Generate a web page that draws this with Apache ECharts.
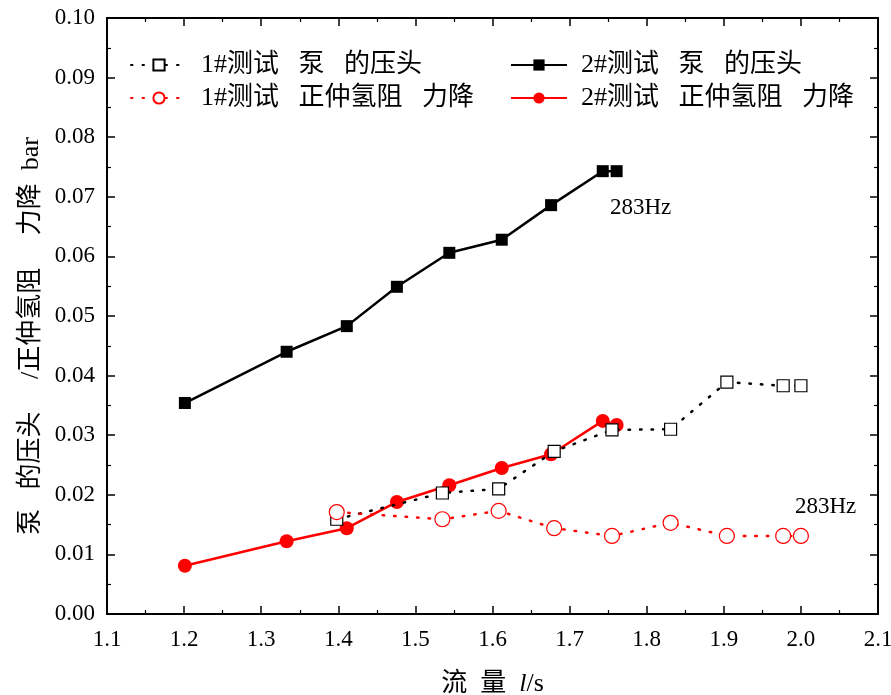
<!DOCTYPE html>
<html>
<head>
<meta charset="utf-8">
<title>流量-压头</title>
<script src="https://cdn.jsdelivr.net/npm/echarts@6/dist/echarts.min.js"></script>
<style>
  html, body { margin: 0; padding: 0; background: #fff; }
  #chart { width: 891px; height: 695px; }
</style>
</head>
<body>
<div id="chart"></div>
<script>
// 数据
var names = ['1#测试   泵   的压头', '1#测试   正仲氢阻   力降', '2#测试   泵   的压头', '2#测试   正仲氢阻   力降'];

var flow1 = [1.398, 1.535, 1.608, 1.680, 1.755, 1.831, 1.904, 1.977, 2.000];
var head1 = [0.0159, 0.0203, 0.0210, 0.0273, 0.0309, 0.0310, 0.0389, 0.0383, 0.0383];
var drop1 = [0.0171, 0.0159, 0.0173, 0.0144, 0.0131, 0.0153, 0.0131, 0.0131, 0.0131];

var flow2 = [1.201, 1.333, 1.411, 1.476, 1.544, 1.612, 1.676, 1.743, 1.761];
var head2 = [0.0354, 0.0440, 0.0483, 0.0549, 0.0606, 0.0628, 0.0686, 0.0743, 0.0743];
var drop2 = [0.0081, 0.0122, 0.0144, 0.0188, 0.0216, 0.0245, 0.0268, 0.0324, 0.0317];

var xTicks = ['1.1', '1.2', '1.3', '1.4', '1.5', '1.6', '1.7', '1.8', '1.9', '2.0', '2.1'];
var yTicks = ['0.00', '0.01', '0.02', '0.03', '0.04', '0.05', '0.06', '0.07', '0.08', '0.09', '0.10'];

var yName = '泵   的压头     /正仲氢阻     力降  bar';

function pairs(xs, ys){
	var out = [];
	for (var i = 0; i < xs.length; i++) out.push([xs[i], ys[i]]);
	return out;
}

var FONT = '"Liberation Serif", "Noto Sans CJK SC", serif';

var axisLine = { show: true, onZero: false, lineStyle: { color: '#000', width: 2 } };
var tick = { show: true, inside: true, length: 8, lineStyle: { color: '#000', width: 1.5 } };
var minor = { show: true, splitNumber: 2, length: 4, lineStyle: { color: '#000', width: 1.2 } };

var legendText = { fontSize: 26, color: '#000', fontFamily: FONT, padding: [0, 0, 0, 9] };

var option = {
	backgroundColor: '#fff',
	animation: false,
	textStyle: { fontFamily: FONT },
	grid: { left: 107, right: 13, top: 18, bottom: 81, outerBoundsMode: 'none', containLabel: false },
	legend: [
		{
			data: [names[0], names[1]],
			orient: 'vertical',
			left: 125, top: 47,
			itemWidth: 56, itemHeight: 14, itemGap: 7,
			textStyle: legendText
		},
		{
			data: [names[2], names[3]],
			orient: 'vertical',
			left: 505, top: 47,
			itemWidth: 56, itemHeight: 14, itemGap: 7,
			textStyle: legendText
		}
	],
	xAxis: [
		{
			type: 'value', min: 1.1, max: 2.1, interval: 0.1,
			name: '流  量  {i|l}/s', nameLocation: 'middle', nameGap: 57,
			nameTextStyle: {
				fontSize: 26, color: '#000', fontFamily: FONT,
				rich: { i: { fontStyle: 'italic', fontSize: 26, fontFamily: FONT } }
			},
			axisLine: axisLine, axisTick: tick, minorTick: minor,
			splitLine: { show: false },
			axisLabel: {
				fontSize: 23, color: '#000', margin: 14, fontFamily: FONT,
				formatter: function(v){ return xTicks[Math.round((v - 1.1) * 10)]; }
			}
		},
		{
			type: 'value', min: 1.1, max: 2.1, interval: 0.1, position: 'top',
			axisLine: axisLine, axisTick: tick, minorTick: minor,
			splitLine: { show: false }, axisLabel: { show: false }
		}
	],
	yAxis: [
		{
			type: 'value', min: 0, max: 0.1, interval: 0.01,
			axisLine: axisLine, axisTick: tick, minorTick: minor,
			splitLine: { show: false },
			axisLabel: {
				fontSize: 23, color: '#000', margin: 12, fontFamily: FONT,
				formatter: function(v){ return yTicks[Math.round(v * 100)]; }
			}
		},
		{
			type: 'value', min: 0, max: 0.1, interval: 0.01, position: 'right',
			axisLine: axisLine, axisTick: tick, minorTick: minor,
			splitLine: { show: false }, axisLabel: { show: false }
		}
	],
	series: [
		{
			name: names[0], type: 'line', data: pairs(flow1, head1),
			symbol: 'rect', symbolSize: 12,
			itemStyle: { color: '#fff', borderColor: '#000', borderWidth: 1.2 },
			lineStyle: { color: '#000', width: 2.5, type: [1.5, 10], cap: 'round' },
			z: 3
		},
		{
			name: names[1], type: 'line', data: pairs(flow1, drop1),
			symbol: 'circle', symbolSize: 15,
			itemStyle: { color: '#fff', borderColor: '#ff0000', borderWidth: 1.2 },
			lineStyle: { color: '#ff0000', width: 2.5, type: [1.5, 10], cap: 'round' },
			z: 3
		},
		{
			name: names[2], type: 'line', data: pairs(flow2, head2),
			symbol: 'rect', symbolSize: 12,
			itemStyle: { color: '#000' },
			lineStyle: { color: '#000', width: 2.5 },
			z: 2
		},
		{
			name: names[3], type: 'line', data: pairs(flow2, drop2),
			symbol: 'circle', symbolSize: 14,
			itemStyle: { color: '#ff0000' },
			lineStyle: { color: '#ff0000', width: 2.5 },
			z: 2
		}
	],
	graphic: [
		// y轴标题
		{
			type: 'text', x: 31, y: 336, rotation: Math.PI / 2,
			style: { text: yName, fontSize: 26, fontFamily: FONT, fill: '#000', align: 'center', verticalAlign: 'middle' }
		},
		{ type: 'text', left: 610, top: 196, style: { text: '283Hz', fontSize: 23, fontFamily: 'Liberation Serif', fill: '#000' } },
		{ type: 'text', left: 795, top: 495, style: { text: '283Hz', fontSize: 23, fontFamily: 'Liberation Serif', fill: '#000' } }
	]
};

var myChart = echarts.init(document.getElementById('chart'), null, { renderer: 'canvas' });
myChart.setOption(option);
</script>
</body>
</html>
